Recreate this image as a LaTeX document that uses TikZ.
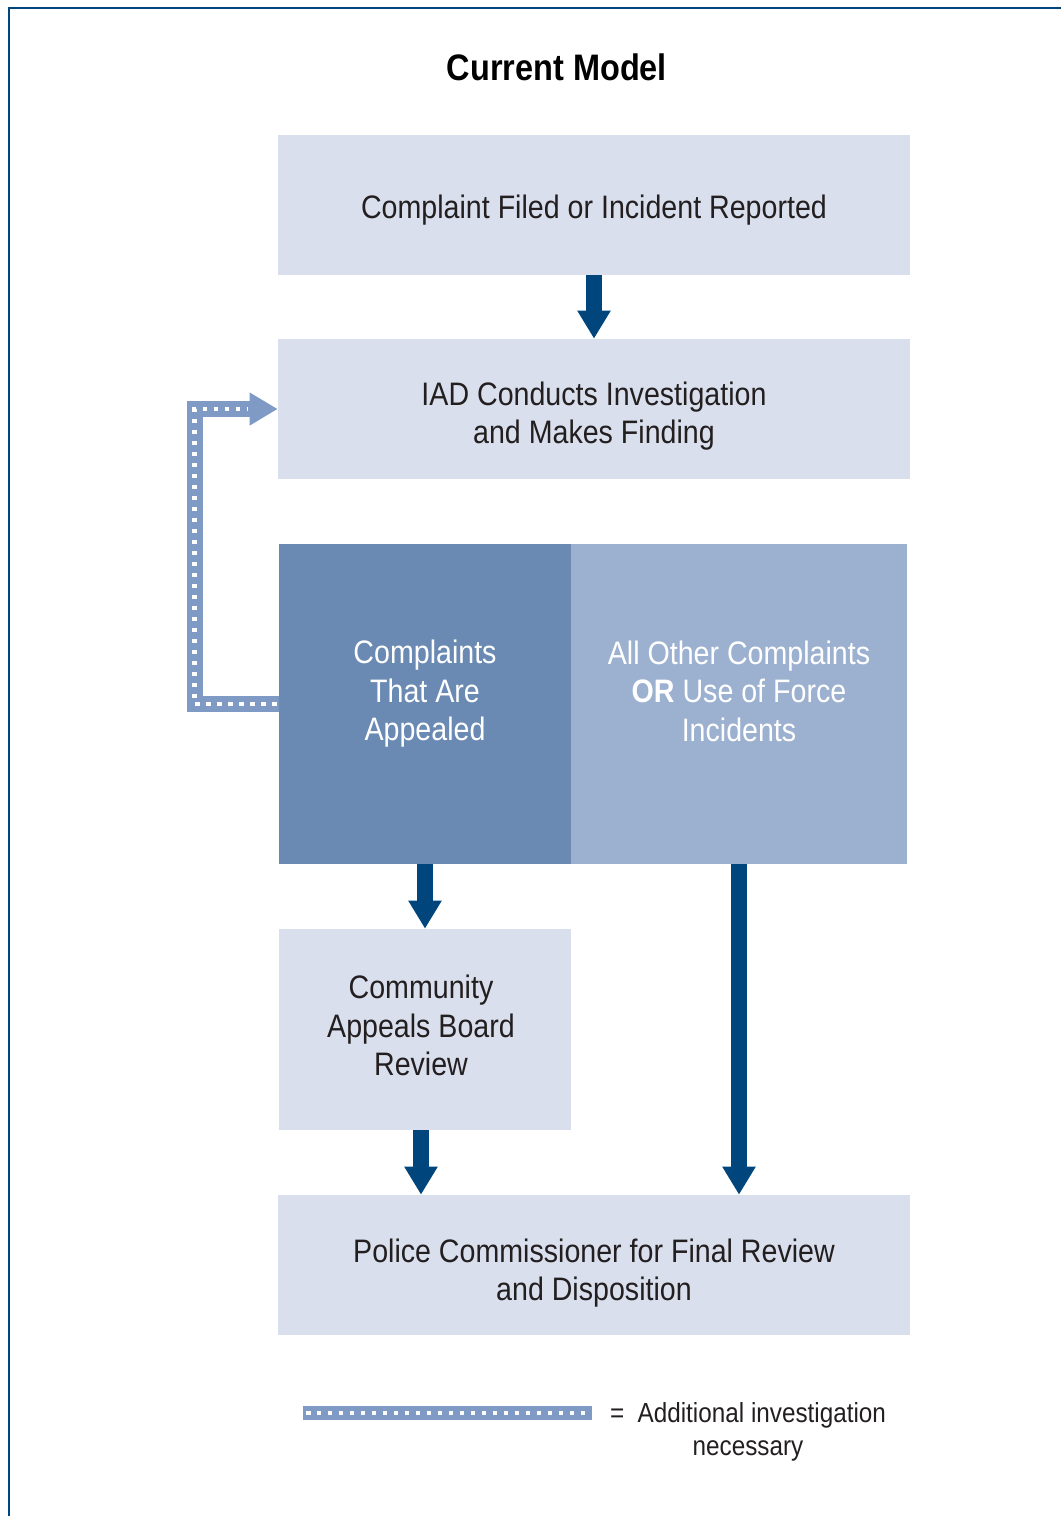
\documentclass[tikz,border=0pt]{standalone}
\usepackage{fontspec}
\setmainfont{Liberation Sans}[FakeStretch=0.88]
\usetikzlibrary{arrows.meta,positioning,calc}
\definecolor{navy}{HTML}{00467D}
\definecolor{paleblue}{HTML}{D9DFEC}
\definecolor{midblue}{HTML}{6A8AB3}
\definecolor{softblue}{HTML}{9CB0D0}
\definecolor{dotblue}{HTML}{7F9AC5}
\definecolor{inktext}{HTML}{231F20}
\tikzstyle{panel} = [rectangle, fill=paleblue, inner sep=0pt]
\tikzstyle{panetxt} = [text=inktext, align=center, font=\fontsize{18.5}{21.9}\selectfont]
\tikzstyle{whitetxt} = [text=white, align=center, font=\fontsize{18.5}{21.9}\selectfont]
\tikzstyle{bigarrow} = [draw=navy, line width=0.32cm, -{Triangle[length=0.56cm,width=0.63cm]}]
\tikzstyle{dotband} = [draw=dotblue, line width=0.32cm, line join=miter]
\tikzstyle{dotinner} = [draw=white, line width=0.09cm, dash pattern=on 0.09cm off 0.13cm]

\begin{document}
\begin{tikzpicture}[x=0.02cm, y=-0.02cm]
\useasboundingbox (0,0) rectangle (1061,1516);
% frame, open at right and bottom
\draw[navy, line width=0.05cm] (9,1516) -- (9,8) -- (1061,8);
\node (title) at (557,67) {\fontsize{21}{24}\selectfont\bfseries Current Model};
% boxes
\node[panel, minimum width=12.64cm, minimum height=2.8cm] (filed) at (594,205) {};
\node[panel, minimum width=12.64cm, minimum height=2.8cm] (iad) at (594,409) {};
\node[panel, fill=midblue, minimum width=5.84cm, minimum height=6.4cm] (appealed) at (425,704) {};
\node[panel, fill=softblue, minimum width=6.72cm, minimum height=6.4cm] (other) at (739,704) {};
\node[panel, minimum width=5.84cm, minimum height=4.02cm] (board) at (425,1029.5) {};
\node[panel, minimum width=12.64cm, minimum height=2.8cm] (final) at (594,1265) {};
% texts
\node[panetxt] (filedtxt) at (594,210) {Complaint Filed or Incident Reported};
\node[panetxt] (iadtxt) at (594,416) {IAD Conducts Investigation\\and Makes Finding};
\node[whitetxt] (appealedtxt) at (425,694) {Complaints\\That Are\\Appealed};
\node[whitetxt] (othertxt) at (739,691) {All Other Complaints\\\textbf{OR} Use of Force\\Incidents};
\node[panetxt] (boardtxt) at (421,1025.5) {Community\\Appeals Board\\Review};
\node[panetxt] (finaltxt) at (594,1273) {Police Commissioner for Final Review\\and Disposition};
% arrows
\draw[bigarrow] (filed) -- (iad);
\draw[bigarrow] (appealed) -- (board);
\draw[bigarrow] ($(board.south)+(-4,0)$) -- ($(board.south |- final.north)+(-4,0)$);
\draw[bigarrow] (other.south) -- (other.south |- final.north);
% loop back for further investigation
\draw[dotband, -{Triangle[length=0.56cm,width=0.62cm]}] (appealed.west) -- ++(-84,0) |- (iad.west);
\draw[dotinner] ($(appealed.west)+(-2,0)$) -- ++(-82,0) |- ($(iad.west)+(-30,0)$);
% key
\coordinate (keyL) at (303,1413);
\coordinate (keyR) at (592,1413);
\draw[dotband, line width=0.28cm, line join=miter] (keyL) -- (keyR);
\draw[dotinner] ($(keyL)+(3,0)$) -- ($(keyR)+(-3,0)$);
\node[align=center, text=inktext, font=\fontsize{15.7}{18.8}\selectfont] (keytxt) at (748,1432) {=\ \ Additional investigation\\necessary};
\end{tikzpicture}
\end{document}
